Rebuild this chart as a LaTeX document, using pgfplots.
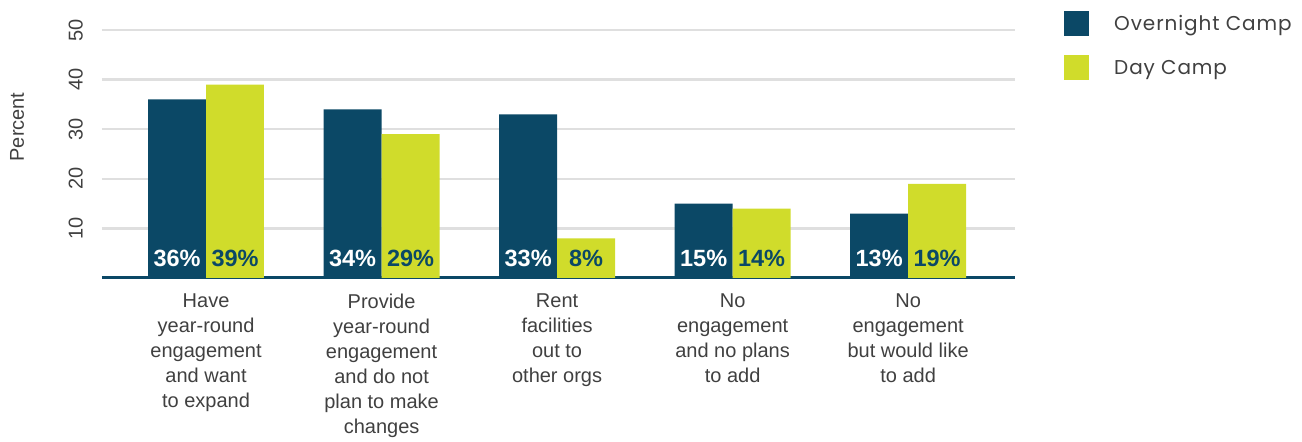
\documentclass[border=0pt]{standalone}
\usepackage{pgfplots}
\pgfplotsset{compat=1.18}
\usepackage{fontspec}
\setmainfont{Liberation Sans}
\newfontfamily\legfont[LetterSpace=4.5]{Poppins}
\newfontfamily\valfont{Liberation Sans Bold}
\definecolor{navy}{HTML}{0B4866}
\definecolor{lime}{HTML}{D0DC2B}
\definecolor{txt}{HTML}{404040}
\definecolor{gridc}{HTML}{DFDFDF}
\begin{document}
\begin{tikzpicture}[x=1pt,y=1pt]
\useasboundingbox (0,0) rectangle (1302,442);
\begin{axis}[
  at={(102pt,164pt)}, anchor=south west,
  scale only axis, width=913pt, height=248pt,
  xmin=-0.593, xmax=4.609, ymin=0, ymax=50,
  axis lines=left, axis line style={-},
  y axis line style={draw=none},
  x axis line style={navy, line width=3pt},
  ytick={10,20,30,40,50},
  ymajorgrids, grid style={gridc, line width=2.5pt},
  major tick length=0pt,
  /pgf/number format/assume math mode=true,
  yticklabel style={xshift=-19pt, rotate=90, anchor=south, inner sep=0pt, font=\fontsize{20}{20}\selectfont, text=txt},
  xtick={0,1,2,3,4},
  xticklabels={{Have\\year-round\\engagement\\and want\\to expand},
               {Provide\\year-round\\engagement\\and do not\\plan to make\\changes},
               {Rent\\facilities\\out to\\other orgs},
               {No\\engagement\\and no plans\\to add},
               {No\\engagement\\but would like\\to add}},
  xticklabel style={anchor=north, align=center, inner sep=0pt, yshift=-16pt, font=\fontsize{20}{25}\selectfont, text=txt},
  ylabel={Percent},
  every axis y label/.style={at={(axis description cs:-0.093,0.609)}, rotate=90, anchor=center, font=\fontsize{20}{20}\selectfont, text=txt},
  legend style={at={(axis description cs:1.0537,1.0766)}, anchor=north west, draw=none, fill=none, inner sep=0pt, row sep=19pt, column sep=25pt, nodes={inner sep=0pt}, font=\legfont\fontsize{20}{20}\selectfont, text=txt},
  legend cell align=left,
  legend image code/.code={\fill[#1] (0pt,-12.5pt) rectangle (25pt,12.5pt);},
]
\addplot[ybar, bar width=0.33, bar shift=-0.165, fill=navy, draw=none]
  coordinates {(0,36) (1,34) (2,33) (3,15) (4,13)};
\addlegendentry{Overnight Camp}
\addplot[ybar, bar width=0.33, bar shift=0.165, fill=lime, draw=none]
  coordinates {(0,39) (1,29) (2,8) (3,14) (4,19)};
\addlegendentry{Day Camp}
\addplot[draw=none, mark=none, forget plot,
  point meta=explicit,
  nodes near coords={\valfont\fontsize{23.5}{23.5}\selectfont\pgfmathprintnumber{\pgfplotspointmeta}\%},
  every node near coord/.append style={anchor=base, yshift=11pt, inner sep=0pt, text=white}]
  coordinates {(-0.165,0) [36] (0.835,0) [34] (1.835,0) [33] (2.835,0) [15] (3.835,0) [13]};
\addplot[draw=none, mark=none, forget plot,
  point meta=explicit,
  nodes near coords={\valfont\fontsize{23.5}{23.5}\selectfont\pgfmathprintnumber{\pgfplotspointmeta}\%},
  every node near coord/.append style={anchor=base, yshift=11pt, inner sep=0pt, text=navy}]
  coordinates {(0.165,0) [39] (1.165,0) [29] (2.165,0) [8] (3.165,0) [14] (4.165,0) [19]};
\end{axis}
\end{tikzpicture}
\end{document}
